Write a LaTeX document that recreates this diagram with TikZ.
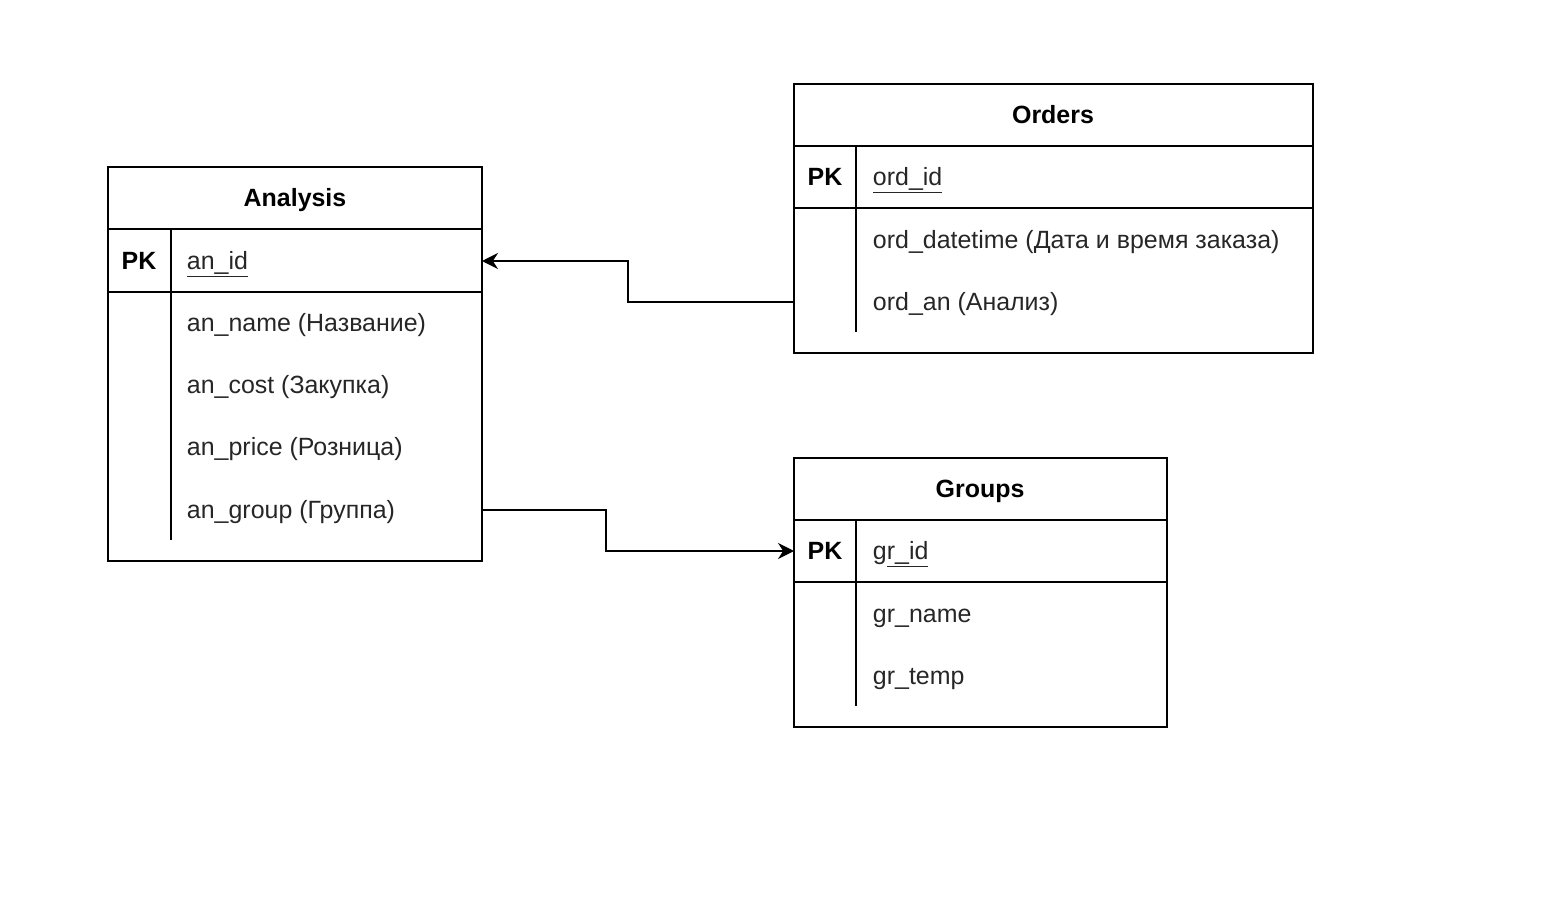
\documentclass[tikz,border=0pt]{standalone}
\usepackage{fontspec}
\setmainfont{Liberation Sans}
\usepackage{tikz}
\usetikzlibrary{arrows.meta,positioning}

\begin{document}
\begin{tikzpicture}[x=0.02cm, y=-0.02cm, line width=1.1pt,
		font=\fontsize{14.2}{16}\selectfont,
		tbl/.style={draw, anchor=north west, inner sep=0pt, outer sep=0pt},
		head/.style={font=\fontsize{14.2}{16}\selectfont\bfseries, text height=11.5pt, text depth=2pt},
		pk/.style={font=\fontsize{14.2}{16}\selectfont\bfseries, text height=11.5pt, text depth=2pt},
		fld/.style={anchor=west, inner sep=0pt, text=black!85, text height=11.5pt, text depth=2pt},
		link/.style={-{Stealth[length=0.32cm, width=0.32cm]}}]
	\useasboundingbox (0,0) rectangle (1552,906);
	
	% Analysis
	\node[tbl, minimum width=374*0.02cm, minimum height=394*0.02cm] (analysis) at (108,167) {};
	\draw (108,229) -- (482,229);
	\draw (108,292) -- (482,292);
	\draw (171,229) -- (171,540);
	\node[head] (analysishead) at (295,198) {Analysis};
	\node[pk] (analysispk) at (139,261) {PK};
	\node[fld] (anid) at (186,261) {\underline{an\_id}};
	\node[fld] (anname) at (186,323) {an\_name (Название)};
	\node[fld] (ancost) at (186,385) {an\_cost (Закупка)};
	\node[fld] (anprice) at (186,447) {an\_price (Розница)};
	\node[fld] (angroup) at (186,510) {an\_group (Группа)};
	
	% Orders
	\node[tbl, minimum width=519*0.02cm, minimum height=269*0.02cm] (orders) at (794,84) {};
	\draw (794,146) -- (1313,146);
	\draw (794,208) -- (1313,208);
	\draw (856,146) -- (856,332);
	\node[head] (ordershead) at (1053,115) {Orders};
	\node[pk] (orderspk) at (825,177) {PK};
	\node[fld] (ordid) at (872,177) {\underline{ord\_id}};
	\node[fld] (orddatetime) at (872,240) {ord\_datetime (Дата и время заказа)};
	\node[fld] (ordan) at (872,302) {ord\_an (Анализ)};
	
	% Groups
	\node[tbl, minimum width=373*0.02cm, minimum height=269*0.02cm] (groups) at (794,458) {};
	\draw (794,520) -- (1167,520);
	\draw (794,582) -- (1167,582);
	\draw (856,520) -- (856,706);
	\node[head] (groupshead) at (980,489) {Groups};
	\node[pk] (groupspk) at (825,551) {PK};
	\node[fld] (grid) at (872,551) {g\underline{r\_id}};
	\node[fld] (grname) at (872,614) {gr\_name};
	\node[fld] (grtemp) at (872,676) {gr\_temp};
	
	% links
	\draw[link] (ordan -| orders.west) -- ++(-166,0) |- (anid -| analysis.east);
	\draw[link] (angroup -| analysis.east) -- ++(124,0) |- (grid -| groups.west);
\end{tikzpicture}
\end{document}
